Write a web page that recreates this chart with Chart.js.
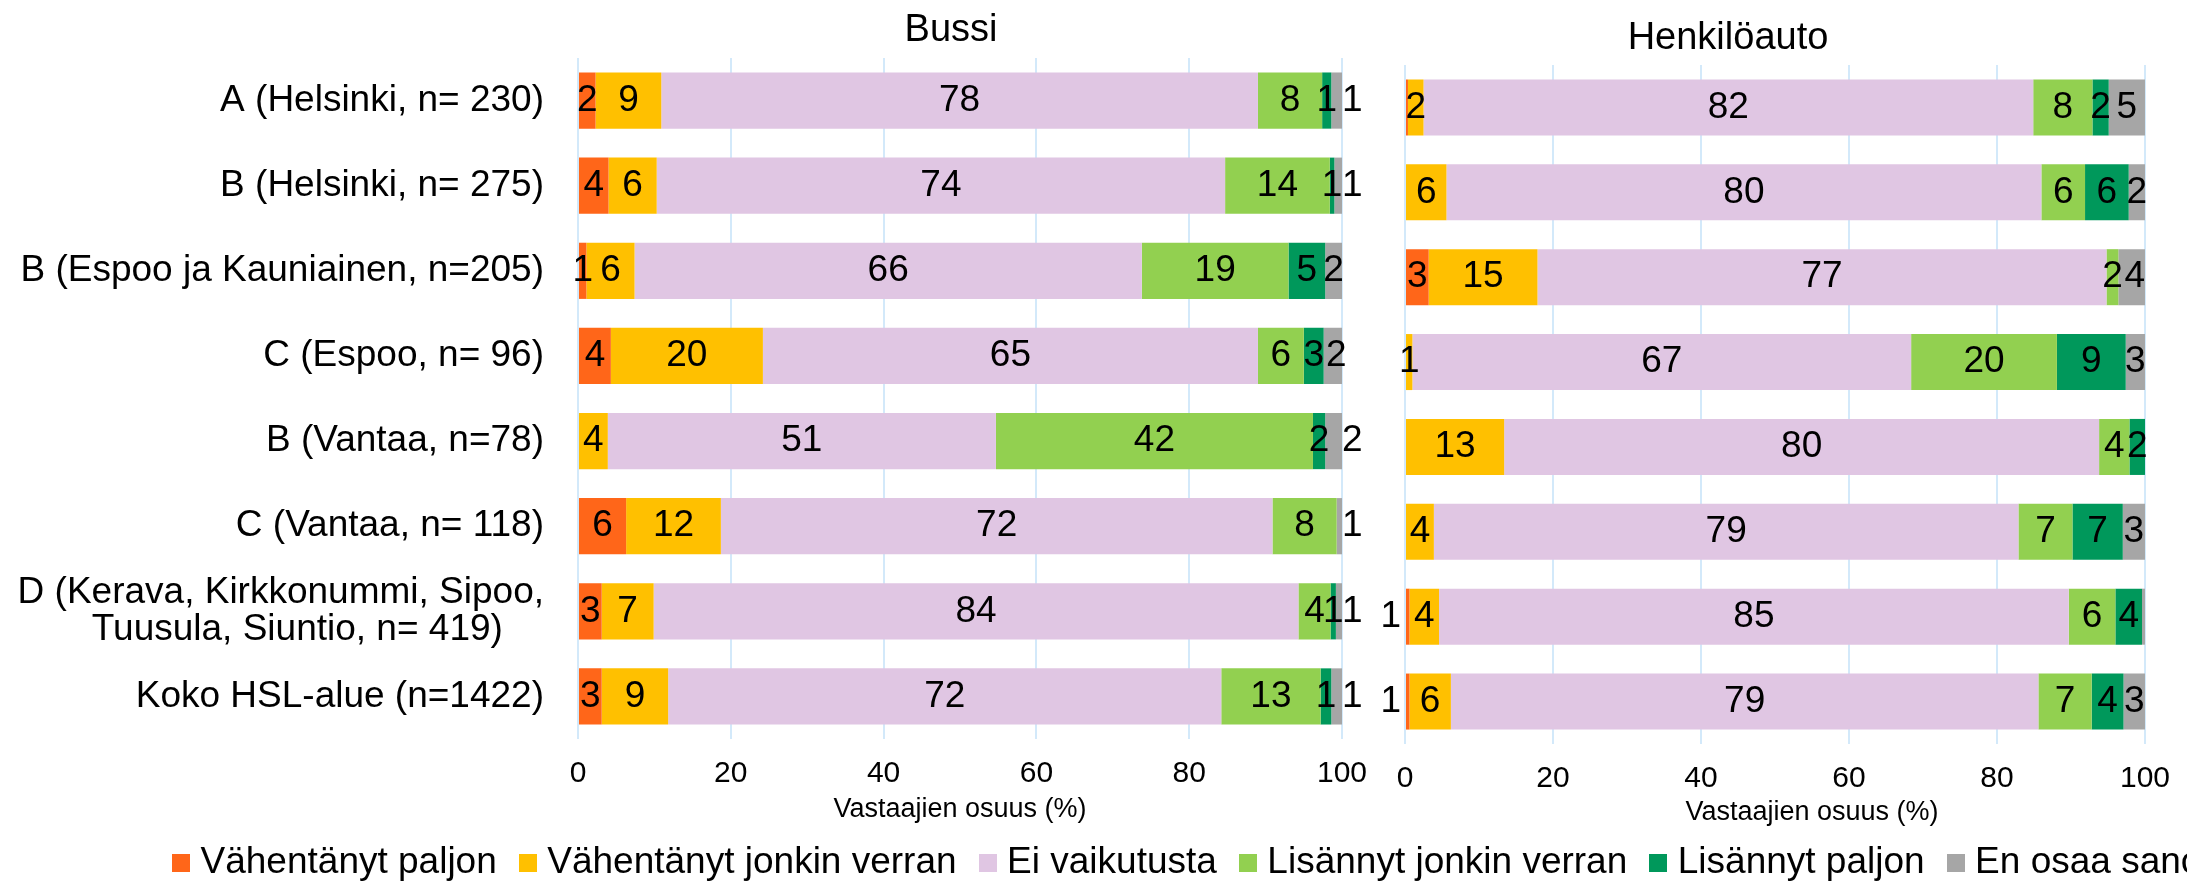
<!DOCTYPE html>
<html>
<head>
<meta charset="utf-8">
<script src="https://cdn.jsdelivr.net/npm/chart.js@4.4.1/dist/chart.umd.min.js"></script>
<style>
  html, body { margin: 0; padding: 0; background: #fff; overflow: hidden; width: 2187px; height: 882px; }
  #wrap { position: relative; width: 2187px; height: 882px; overflow: hidden; }
  canvas { position: absolute; top: 0; }
</style>
</head>
<body>
<div id="wrap">
  <canvas id="bus"></canvas>
  <canvas id="car"></canvas>
</div>
<script>
// ---------- DATA ----------
const categories = [
  'A (Helsinki, n= 230)',
  'B (Helsinki, n= 275)',
  'B (Espoo ja Kauniainen, n=205)',
  'C (Espoo, n= 96)',
  'B (Vantaa, n=78)',
  'C (Vantaa, n= 118)',
  ['D (Kerava, Kirkkonummi, Sipoo,', 'Tuusula, Siuntio, n= 419)'],
  'Koko HSL-alue (n=1422)'
];
const seriesNames = [
  'Vähentänyt paljon',
  'Vähentänyt jonkin verran',
  'Ei vaikutusta',
  'Lisännyt jonkin verran',
  'Lisännyt paljon',
  'En osaa sanoa'
];
const panelTitles = ['Bussi', 'Henkilöauto'];
const axisTitle = 'Vastaajien osuus (%)';
const xTicks = [0, 20, 40, 60, 80, 100];

// Bussi (%)
const bussiVahPaljon   = [2.3, 4.0, 1.1, 4.3, 0.0, 6.3, 3.1, 3.1];
const bussiVahJonkin   = [8.6, 6.3, 6.3, 19.9, 3.9, 12.4, 6.8, 8.7];
const bussiEi          = [78.1, 74.4, 66.4, 64.8, 50.8, 72.2, 84.4, 72.4];
const bussiLisJonkin   = [8.4, 13.7, 19.2, 6.0, 41.5, 8.4, 4.2, 13.0];
const bussiLisPaljon   = [1.2, 0.6, 4.8, 2.6, 1.6, 0.0, 0.7, 1.4];
const bussiEOS         = [1.4, 1.0, 2.2, 2.4, 2.2, 0.7, 0.8, 1.4];

// Henkilöauto (%)
const autoVahPaljon    = [0.4, 0.0, 3.2, 0.0, 0.0, 0.0, 0.6, 0.6];
const autoVahJonkin    = [2.1, 5.6, 14.7, 1.0, 13.4, 3.9, 4.0, 5.6];
const autoEi           = [82.4, 80.4, 76.9, 67.4, 80.4, 79.0, 85.1, 79.4];
const autoLisJonkin    = [8.0, 5.9, 1.6, 19.7, 4.1, 7.3, 6.3, 7.2];
const autoLisPaljon    = [2.2, 5.9, 0.0, 9.3, 2.1, 6.8, 3.6, 4.3];
const autoEOS          = [4.9, 2.2, 3.6, 2.6, 0.0, 3.0, 0.4, 2.9];

// ---------- STYLE ----------
const colors = ['#FF6619', '#FFC000', '#E0C6E3', '#92D050', '#00985B', '#A6A6A6'];
const FONT = '"Liberation Sans", Arial, Helvetica, sans-serif';
const GRID = '#D3E9FA';

Chart.defaults.font.family = FONT;
Chart.defaults.color = '#000';

const busSeries = [bussiVahPaljon, bussiVahJonkin, bussiEi, bussiLisJonkin, bussiLisPaljon, bussiEOS];
const carSeries = [autoVahPaljon, autoVahJonkin, autoEi, autoLisJonkin, autoLisPaljon, autoEOS];

function makeDatasets(series) {
  return series.map((d, i) => ({
    label: seriesNames[i],
    data: d,
    backgroundColor: colors[i],
    borderWidth: 0,
    barPercentage: 0.66,
    categoryPercentage: 1.0
  }));
}

function swatch(color) {
  const c = document.createElement('canvas');
  c.width = 18; c.height = 18;
  const g = c.getContext('2d');
  g.fillStyle = color; g.fillRect(0, 0, 18, 18);
  return c;
}

// value labels inside the segments
const valueLabels = {
  id: 'valueLabels',
  afterDatasetsDraw(chart) {
    const ctx = chart.ctx;
    const n = chart.data.datasets.length;
    ctx.save();
    ctx.font = '37px ' + FONT;
    ctx.fillStyle = '#000';
    ctx.textBaseline = 'middle';
    for (let j = 0; j < chart.data.labels.length; j++) {
      let prevRight = -Infinity;
      for (let i = 0; i < n; i++) {
        const v = chart.data.datasets[i].data[j];
        const r = Math.round(v);
        if (!r) continue;
        const el = chart.getDatasetMeta(i).data[j];
        const start = Math.min(el.base, el.x), end = Math.max(el.base, el.x);
        const txt = String(r);
        const half = ctx.measureText(txt).width * 0.4;
        let cx = (start + end) / 2;
        if (i === 0 && v < 1) {
          ctx.textAlign = 'right';
          ctx.fillText(txt, start - 5, el.y);
        } else if (i === n - 1 && (v < 1.5 || cx - half < prevRight)) {
          ctx.textAlign = 'left';
          ctx.fillText(txt, end, el.y);
        } else {
          if (i === n - 1 && cx - half < prevRight + 6) cx = prevRight + 6 + half;
          ctx.textAlign = 'center';
          ctx.fillText(txt, cx, el.y);
          prevRight = cx + half;
        }
      }
    }
    ctx.restore();
  }
};

// free texts (panel titles etc.)
const panelText = {
  id: 'panelText',
  afterDraw(chart, args, opts) {
    const ctx = chart.ctx;
    (opts.items || []).forEach(t => {
      ctx.save();
      ctx.font = t.size + 'px ' + FONT;
      ctx.fillStyle = '#000';
      ctx.textAlign = 'center';
      ctx.textBaseline = 'middle';
      ctx.fillText(t.text, t.x, t.y);
      ctx.restore();
    });
  }
};

// measuring helpers
const mctx = document.createElement('canvas').getContext('2d');
mctx.font = '37px ' + FONT;
const legendPad = 30;
let legendLine = 0;
seriesNames.forEach(s => { legendLine += 2 + 18.5 + mctx.measureText(s).width + legendPad; });
const busW = Math.round(2 * 180 - legendPad + legendLine);
const busRight = 1342;

function xScale(extra) {
  return Object.assign({
    type: 'linear', stacked: true, min: 0, max: 100,
    afterBuildTicks: (s) => { s.ticks = xTicks.map(v => ({ value: v })); },
    grid: { color: GRID, lineWidth: 2, drawTicks: false },
    border: { display: false },
    ticks: { font: { size: 30 }, padding: 17, color: '#000', maxRotation: 0 }
  }, extra);
}

// ---------- BUSSI ----------
const busCanvas = document.getElementById('bus');
busCanvas.width = busW; busCanvas.height = 882;
busCanvas.style.left = '0px';
busCanvas.style.width = busW + 'px'; busCanvas.style.height = '882px';

new Chart(busCanvas, {
  type: 'bar',
  data: { labels: categories, datasets: makeDatasets(busSeries) },
  plugins: [valueLabels, panelText],
  options: {
    responsive: false,
    animation: false,
    indexAxis: 'y',
    layout: { padding: { top: 58, bottom: -9, left: 0, right: 0 } },
    scales: {
      x: xScale({
        title: { display: true, text: axisTitle, font: { size: 27 }, color: '#000', padding: { top: 0, bottom: -12 } },
        afterFit: (s) => { s.height = 75; }
      }),
      y: {
        type: 'category', stacked: true,
        grid: { display: false }, border: { display: false },
        afterFit: (s) => { s.width = 578; },
        ticks: {
          font: { size: 37, lineHeight: 1.0 }, color: '#000', padding: 26,
          callback: function (value) {
            const lab = this.getLabelForValue(value);
            if (Array.isArray(lab)) {
              const w1 = mctx.measureText(lab[0]).width;
              const w2 = mctx.measureText(lab[1]).width;
              const sp = mctx.measureText(' ').width;
              const k = Math.floor((w1 - w2) / 2 / sp) - 1;
              return [lab[0], lab[1] + ' '.repeat(Math.max(0, k))];
            }
            return lab;
          }
        }
      },
      spacer: {
        type: 'linear', position: 'right', display: true,
        grid: { display: false }, border: { display: false },
        ticks: { display: false },
        afterFit: (s) => { s.width = busW - busRight; }
      }
    },
    plugins: {
      legend: {
        display: true, position: 'bottom', align: 'center',
        labels: {
          usePointStyle: true, pointStyleWidth: 2, padding: legendPad,
          font: { size: 37 }, color: '#000',
          generateLabels: (chart) => chart.data.datasets.map((ds, i) => ({
            text: ds.label, pointStyle: swatch(ds.backgroundColor),
            fillStyle: ds.backgroundColor, strokeStyle: ds.backgroundColor,
            lineWidth: 0, hidden: false, datasetIndex: i, fontColor: '#000'
          }))
        }
      },
      tooltip: { enabled: false },
      title: { display: false },
      panelText: { items: [{ text: panelTitles[0], x: 951, y: 31, size: 38 }] }
    }
  }
});

// ---------- HENKILÖAUTO ----------
const carLeft = 1370;
const carCanvas = document.getElementById('car');
carCanvas.width = 2187 - carLeft; carCanvas.height = 882;
carCanvas.style.left = carLeft + 'px';
carCanvas.style.width = (2187 - carLeft) + 'px'; carCanvas.style.height = '882px';

new Chart(carCanvas, {
  type: 'bar',
  data: { labels: categories, datasets: makeDatasets(carSeries) },
  plugins: [valueLabels, panelText],
  options: {
    responsive: false,
    animation: false,
    indexAxis: 'y',
    layout: { padding: { top: 65, bottom: 53, left: 35, right: 25 } },
    scales: {
      x: xScale({ afterFit: (s) => { s.height = 85; } }),
      y: { type: 'category', stacked: true, display: false }
    },
    plugins: {
      legend: { display: false },
      tooltip: { enabled: false },
      title: { display: false },
      panelText: { items: [
        { text: panelTitles[1], x: 1728 - carLeft, y: 39, size: 38 },
        { text: axisTitle, x: 1812 - carLeft, y: 813, size: 27 }
      ] }
    }
  }
});
</script>
</body>
</html>
